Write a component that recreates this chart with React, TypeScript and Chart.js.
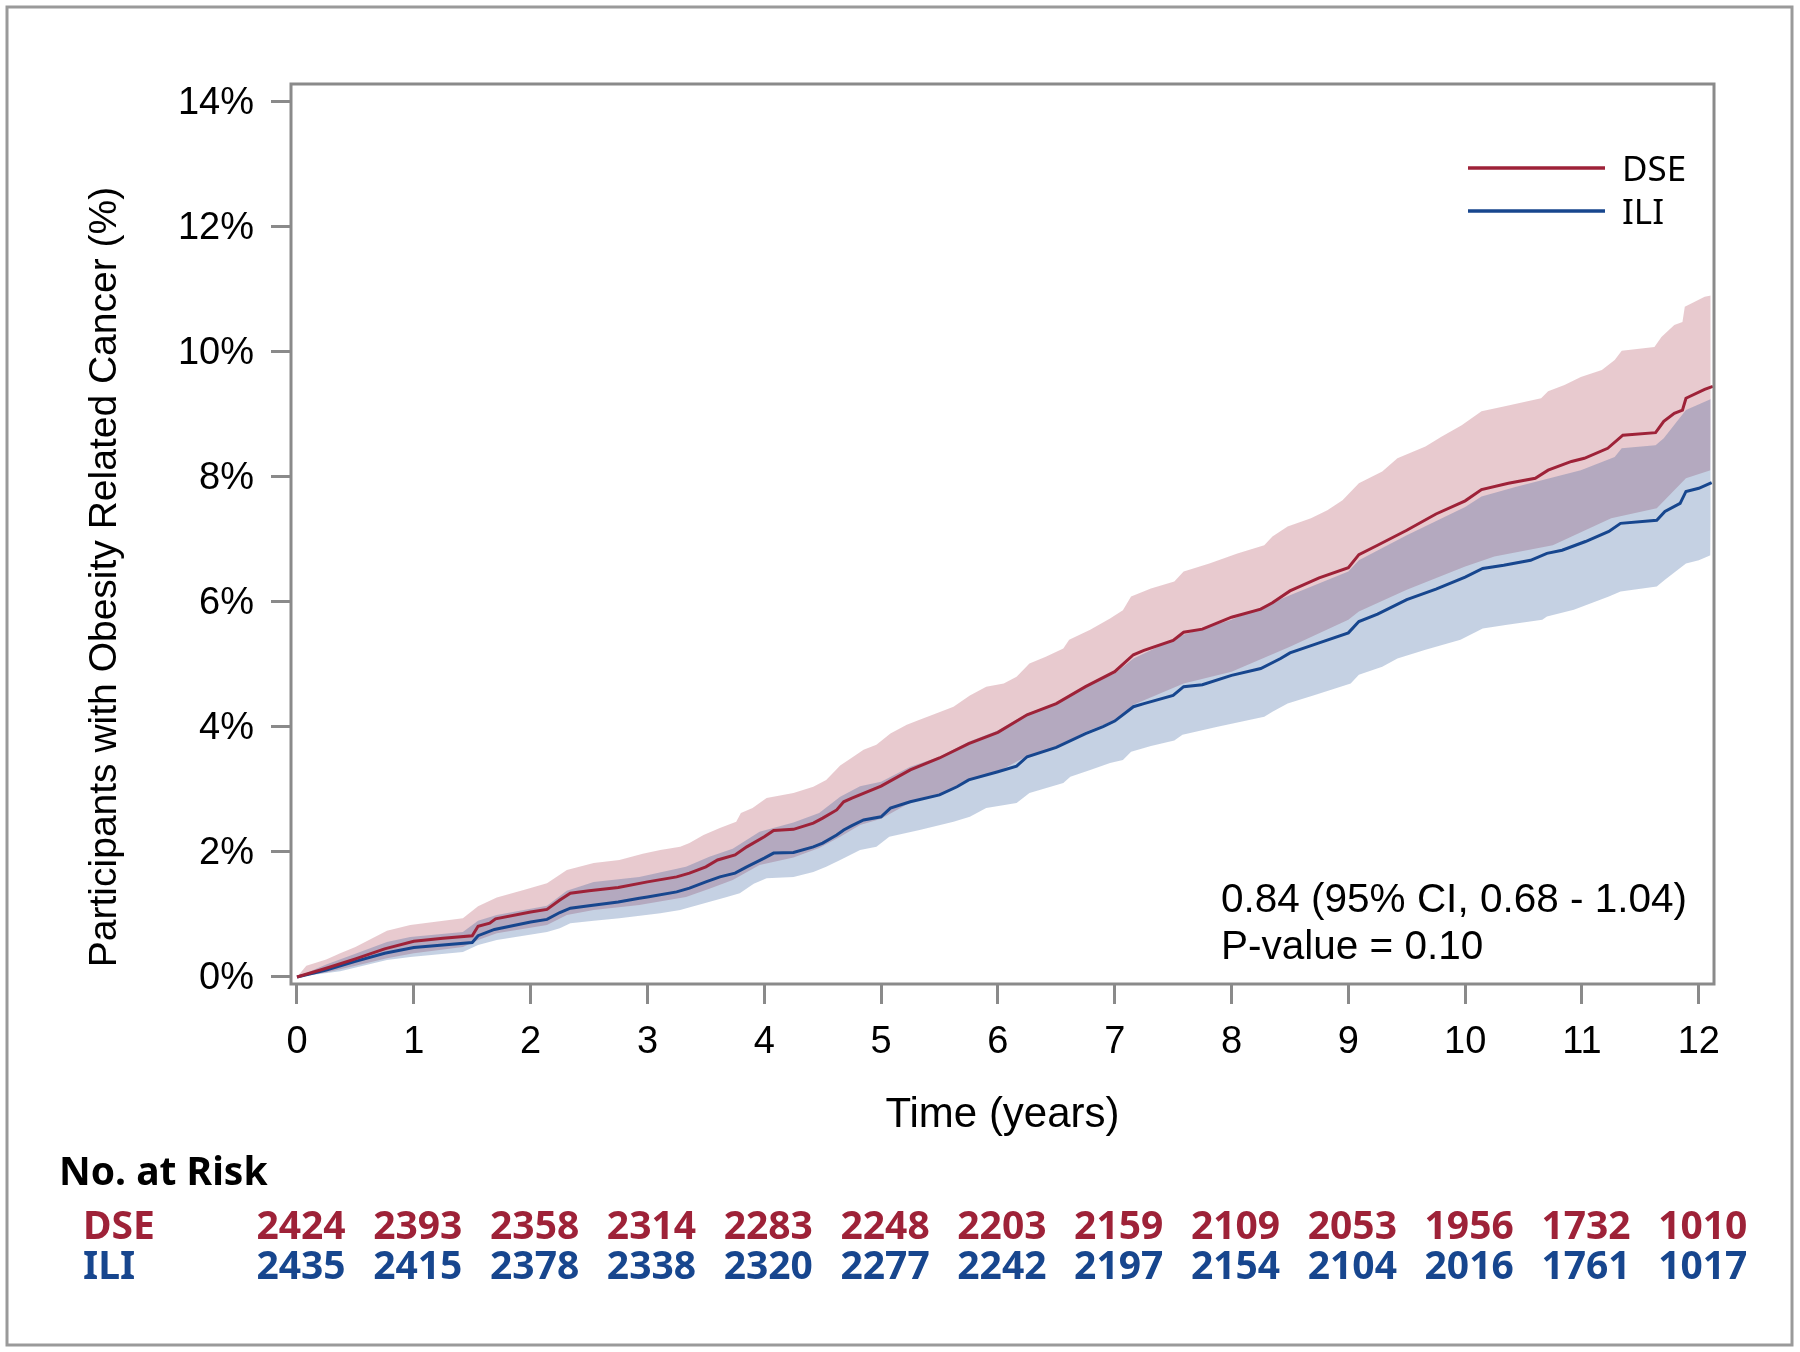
import React, { useEffect, useRef } from 'react';
import { Chart, registerables } from 'chart.js';

Chart.register(...registerables);

// ---------- data ----------
const groups = ['DSE', 'ILI'];
const xTicks = [0, 1, 2, 3, 4, 5, 6, 7, 8, 9, 10, 11, 12];
const yTicks = [0, 2, 4, 6, 8, 10, 12, 14];
const riskTimes = [0, 1, 2, 3, 4, 5, 6, 7, 8, 9, 10, 11, 12];
const dseAtRisk = [2424, 2393, 2358, 2314, 2283, 2248, 2203, 2159, 2109, 2053, 1956, 1732, 1010];
const iliAtRisk = [2435, 2415, 2378, 2338, 2320, 2277, 2242, 2197, 2154, 2104, 2016, 1761, 1017];
const statLines = ['0.84 (95% CI, 0.68 - 1.04)', 'P-value = 0.10'];

// cumulative incidence (%) : [years, percent]
const dseCurve = [
  [0, 0], [0.25, 0.14], [0.5, 0.29], [0.75, 0.45], [1.0, 0.57], [1.25, 0.62], [1.5, 0.66], [1.55, 0.81],
  [1.65, 0.86], [1.7, 0.93], [2.0, 1.04], [2.14, 1.08], [2.25, 1.23], [2.34, 1.34], [2.5, 1.38], [2.75, 1.43],
  [3.0, 1.52], [3.25, 1.6], [3.36, 1.66], [3.5, 1.76], [3.6, 1.87], [3.75, 1.95], [3.85, 2.08], [4.0, 2.24],
  [4.08, 2.34], [4.25, 2.36], [4.42, 2.46], [4.5, 2.54], [4.62, 2.67], [4.68, 2.8], [4.75, 2.86], [5.0, 3.05],
  [5.25, 3.31], [5.5, 3.5], [5.75, 3.73], [6.0, 3.91], [6.25, 4.19], [6.5, 4.37], [6.75, 4.64], [7.0, 4.88],
  [7.16, 5.15], [7.25, 5.22], [7.5, 5.38], [7.59, 5.51], [7.75, 5.56], [8.0, 5.75], [8.25, 5.88], [8.35, 5.98],
  [8.5, 6.17], [8.75, 6.38], [9.0, 6.54], [9.09, 6.75], [9.25, 6.9], [9.5, 7.14], [9.75, 7.4], [10.0, 7.61],
  [10.14, 7.79], [10.37, 7.89], [10.6, 7.97], [10.71, 8.1], [10.91, 8.24], [11.02, 8.29], [11.22, 8.45],
  [11.35, 8.66], [11.63, 8.7], [11.7, 8.88], [11.79, 9.01], [11.86, 9.06], [11.89, 9.25], [12.05, 9.39], [12.12, 9.44],
];
const dseUpper = [
  [0, 0], [0.08, 0.18], [0.25, 0.28], [0.37, 0.38], [0.5, 0.48], [0.77, 0.74], [0.97, 0.83], [1.42, 0.94],
  [1.55, 1.13], [1.71, 1.27], [1.94, 1.39], [2.14, 1.5], [2.31, 1.71], [2.54, 1.82], [2.76, 1.87], [2.96, 1.97],
  [3.11, 2.03], [3.28, 2.08], [3.36, 2.14], [3.48, 2.27], [3.62, 2.38], [3.76, 2.48], [3.8, 2.62], [3.9, 2.7],
  [4.02, 2.86], [4.25, 2.94], [4.42, 3.04], [4.53, 3.15], [4.65, 3.38], [4.73, 3.48], [4.85, 3.63], [4.96, 3.71],
  [5.08, 3.89], [5.22, 4.03], [5.33, 4.11], [5.47, 4.21], [5.62, 4.32], [5.76, 4.5], [5.9, 4.64], [6.05, 4.69],
  [6.16, 4.8], [6.27, 5.01], [6.41, 5.12], [6.56, 5.25], [6.61, 5.39], [6.79, 5.55], [6.96, 5.73], [7.07, 5.86],
  [7.14, 6.08], [7.31, 6.21], [7.51, 6.32], [7.59, 6.48], [7.81, 6.61], [8.05, 6.77], [8.28, 6.9], [8.35, 7.04],
  [8.48, 7.2], [8.68, 7.33], [8.82, 7.46], [8.95, 7.62], [9.09, 7.89], [9.29, 8.08], [9.42, 8.29], [9.66, 8.48],
  [9.8, 8.64], [9.97, 8.82], [10.14, 9.04], [10.34, 9.12], [10.65, 9.25], [10.71, 9.36], [10.85, 9.46],
  [10.99, 9.59], [11.17, 9.7], [11.28, 9.86], [11.34, 10.01], [11.62, 10.07], [11.68, 10.23], [11.79, 10.42],
  [11.86, 10.47], [11.88, 10.71], [12.05, 10.87], [12.12, 10.9],
];
const dseLower = [
  [0, 0], [0.25, 0.07], [0.5, 0.18], [0.77, 0.3], [1.0, 0.38], [1.42, 0.48], [1.55, 0.59], [1.71, 0.7],
  [2.14, 0.83], [2.31, 0.99], [2.54, 1.07], [2.93, 1.15], [3.33, 1.28], [3.53, 1.41], [3.73, 1.55], [3.96, 1.79],
  [4.25, 1.91], [4.47, 2.06], [4.65, 2.24], [4.82, 2.43], [5.0, 2.53], [5.25, 2.79], [5.5, 2.91], [5.75, 3.15],
  [6.0, 3.28], [6.25, 3.53], [6.5, 3.68], [6.75, 3.92], [7.0, 4.1], [7.16, 4.35], [7.59, 4.69], [8.0, 4.88],
  [8.5, 5.28], [9.0, 5.71], [9.09, 5.84], [9.5, 6.19], [10.0, 6.56], [10.25, 6.72], [10.75, 6.9], [11.25, 7.33],
  [11.64, 7.49], [11.89, 7.97], [12.1, 8.1],
];
const iliCurve = [
  [0, 0], [0.25, 0.11], [0.5, 0.25], [0.75, 0.38], [1.0, 0.47], [1.25, 0.51], [1.5, 0.55], [1.55, 0.66],
  [1.69, 0.76], [2.0, 0.88], [2.14, 0.92], [2.25, 1.03], [2.34, 1.1], [2.5, 1.14], [2.75, 1.2], [2.93, 1.26],
  [3.0, 1.28], [3.25, 1.36], [3.36, 1.42], [3.5, 1.52], [3.62, 1.6], [3.75, 1.66], [3.85, 1.76], [4.0, 1.9],
  [4.08, 1.98], [4.25, 1.99], [4.42, 2.08], [4.5, 2.14], [4.62, 2.27], [4.68, 2.35], [4.75, 2.42], [4.85, 2.51],
  [5.0, 2.56], [5.08, 2.7], [5.25, 2.8], [5.5, 2.91], [5.65, 3.04], [5.75, 3.15], [6.0, 3.28], [6.16, 3.37],
  [6.25, 3.52], [6.5, 3.67], [6.75, 3.89], [6.9, 4.0], [7.0, 4.09], [7.16, 4.32], [7.25, 4.37], [7.5, 4.5],
  [7.59, 4.64], [7.75, 4.67], [8.0, 4.82], [8.25, 4.93], [8.42, 5.09], [8.5, 5.18], [8.75, 5.34], [9.0, 5.5],
  [9.09, 5.68], [9.25, 5.8], [9.5, 6.03], [9.75, 6.2], [10.0, 6.39], [10.15, 6.53], [10.33, 6.58], [10.56, 6.66],
  [10.7, 6.77], [10.83, 6.82], [11.03, 6.96], [11.23, 7.12], [11.33, 7.25], [11.64, 7.3], [11.71, 7.44],
  [11.84, 7.57], [11.89, 7.76], [12.0, 7.81], [12.11, 7.9],
];
const iliUpper = [
  [0, 0], [0.25, 0.2], [0.5, 0.37], [0.77, 0.56], [0.97, 0.64], [1.42, 0.72], [1.55, 0.9], [1.71, 0.99],
  [2.14, 1.14], [2.31, 1.38], [2.54, 1.52], [2.93, 1.6], [3.33, 1.76], [3.53, 1.92], [3.73, 2.05], [3.96, 2.32],
  [4.25, 2.47], [4.47, 2.62], [4.65, 2.88], [4.82, 3.05], [5.0, 3.12], [5.25, 3.36], [5.5, 3.52], [5.75, 3.76],
  [6.0, 3.94], [6.25, 4.21], [6.5, 4.38], [6.75, 4.65], [7.0, 4.85], [7.16, 5.09], [7.59, 5.47], [8.0, 5.71],
  [8.5, 6.1], [9.0, 6.48], [9.09, 6.66], [9.5, 7.06], [10.0, 7.51], [10.14, 7.68], [10.43, 7.83], [10.99, 8.1],
  [11.28, 8.31], [11.34, 8.45], [11.63, 8.5], [11.7, 8.61], [11.89, 9.06], [12.12, 9.25],
];
const iliLower = [
  [0, 0], [0.37, 0.09], [0.77, 0.27], [0.97, 0.32], [1.42, 0.4], [1.55, 0.51], [1.71, 0.59], [2.14, 0.72],
  [2.25, 0.78], [2.34, 0.86], [2.54, 0.9], [2.76, 0.94], [3.11, 1.02], [3.28, 1.07], [3.51, 1.19], [3.68, 1.28],
  [3.79, 1.34], [3.91, 1.49], [4.02, 1.58], [4.25, 1.6], [4.42, 1.68], [4.53, 1.76], [4.65, 1.87], [4.82, 2.03],
  [4.96, 2.08], [5.07, 2.24], [5.33, 2.35], [5.62, 2.48], [5.76, 2.56], [5.9, 2.7], [6.16, 2.78], [6.27, 2.94],
  [6.56, 3.1], [6.62, 3.2], [6.79, 3.31], [6.96, 3.42], [7.07, 3.47], [7.14, 3.6], [7.31, 3.69], [7.51, 3.78],
  [7.58, 3.87], [7.88, 4.0], [8.28, 4.16], [8.35, 4.24], [8.48, 4.37], [8.72, 4.51], [9.02, 4.69], [9.09, 4.83],
  [9.29, 4.96], [9.42, 5.09], [9.66, 5.23], [9.96, 5.39], [10.15, 5.57], [10.36, 5.63], [10.66, 5.71],
  [10.7, 5.76], [10.93, 5.87], [11.23, 6.08], [11.33, 6.16], [11.64, 6.24], [11.71, 6.35], [11.89, 6.61],
  [12.0, 6.66], [12.1, 6.74],
];

// ---------- styles ----------
const RED = 'rgb(158,34,56)';
const BLUE = 'rgb(23,70,142)';
const RED_FILL = 'rgba(158,34,56,0.24)';
const BLUE_FILL = 'rgba(23,70,142,0.25)';
const AXIS_GRAY = '#8a8a8a';
const ARIAL = "'Liberation Sans', Arial, sans-serif";
const SANS = "'Noto Sans', 'Open Sans', sans-serif";

const toPts = (arr: number[][]) => arr.map(([x, y]) => ({ x, y }));

const decorPlugin = {
  id: 'decor',
  beforeDraw(chart: any) {
    const { ctx, width, height } = chart;
    ctx.save();
    ctx.fillStyle = '#ffffff';
    ctx.fillRect(0, 0, width, height);
    ctx.restore();
  },
  afterDraw(chart: any) {
    const { ctx, chartArea: ca, scales } = chart;
    ctx.save();
    // plot frame
    ctx.strokeStyle = AXIS_GRAY;
    ctx.lineWidth = 3;
    ctx.strokeRect(ca.left, ca.top, ca.right - ca.left, ca.bottom - ca.top);
    // outer border
    ctx.strokeStyle = '#9a9a9a';
    ctx.lineWidth = 3;
    ctx.strokeRect(7, 7, 1785, 1338);

    ctx.textBaseline = 'alphabetic';

    // y-axis title
    ctx.save();
    ctx.translate(116, 577);
    ctx.rotate(-Math.PI / 2);
    ctx.font = `39px ${ARIAL}`;
    ctx.fillStyle = '#000';
    ctx.textAlign = 'center';
    ctx.fillText('Participants with Obesity Related Cancer (%)', 0, 0);
    ctx.restore();

    // legend
    const legendColors = [RED, BLUE];
    groups.forEach((g, i) => {
      const y = 168 + i * 43;
      ctx.strokeStyle = legendColors[i];
      ctx.lineWidth = 3.5;
      ctx.beginPath();
      ctx.moveTo(1468, y);
      ctx.lineTo(1605, y);
      ctx.stroke();
      ctx.fillStyle = '#000';
      ctx.font = `35px ${SANS}`;
      ctx.textAlign = 'left';
      ctx.fillText(g, 1622, y + 12.5);
    });

    // statistics annotation
    ctx.fillStyle = '#000';
    ctx.font = `40.5px ${ARIAL}`;
    ctx.textAlign = 'left';
    ctx.fillText(statLines[0], 1221, 912);
    ctx.fillText(statLines[1], 1221, 959);

    // number at risk table
    ctx.font = `bold 39px ${SANS}`;
    ctx.fillStyle = '#000';
    ctx.textAlign = 'left';
    ctx.fillText('No. at Risk', 59, 1185);
    const rows = [dseAtRisk, iliAtRisk];
    const rowBase = [1239, 1279];
    rows.forEach((vals, r) => {
      ctx.fillStyle = legendColors[r];
      ctx.textAlign = 'left';
      ctx.fillText(groups[r], 83, rowBase[r]);
      ctx.textAlign = 'center';
      vals.forEach((v, i) => {
        const x = scales.x.getPixelForValue(riskTimes[i]) + 4;
        ctx.fillText(String(v), x, rowBase[r]);
      });
    });
    ctx.restore();
  },
};

export default function App() {
  const ref = useRef<HTMLCanvasElement | null>(null);

  useEffect(() => {
    if (!ref.current) return;
    const band = (data: number[][], color: string, fill: any, order: number) => ({
      data: toPts(data),
      borderColor: 'rgba(0,0,0,0)',
      borderWidth: 0,
      backgroundColor: color,
      pointRadius: 0,
      tension: 0,
      fill,
      order,
    });
    const chart = new Chart(ref.current, {
      type: 'line',
      data: {
        datasets: [
          { ...band(dseLower, RED_FILL, false, 2), label: 'DSE lower' },
          { ...band(dseUpper, RED_FILL, { target: 0 }, 2), label: 'DSE upper' },
          { ...band(iliLower, BLUE_FILL, false, 1), label: 'ILI lower' },
          { ...band(iliUpper, BLUE_FILL, { target: 2 }, 1), label: 'ILI upper' },
          {
            label: groups[0],
            data: toPts(dseCurve),
            borderColor: RED,
            borderWidth: 3,
            pointRadius: 0,
            tension: 0,
            fill: false,
            order: 0,
          },
          {
            label: groups[1],
            data: toPts(iliCurve),
            borderColor: BLUE,
            borderWidth: 3,
            pointRadius: 0,
            tension: 0,
            fill: false,
            order: 0,
          },
        ],
      },
      options: {
        responsive: false,
        animation: false,
        devicePixelRatio: 1,
        layout: { padding: { left: 0, top: 84, right: 86, bottom: 208 } },
        plugins: {
          legend: { display: false },
          tooltip: { enabled: false },
          filler: { drawTime: 'beforeDatasetsDraw' },
        },
        scales: {
          x: {
            type: 'linear',
            min: -0.0513,
            max: 12.13,
            afterBuildTicks: (s: any) => {
              s.ticks = xTicks.map((v) => ({ value: v }));
            },
            afterFit: (s: any) => {
              s.height = 160;
            },
            border: { display: false },
            grid: {
              drawOnChartArea: false,
              drawTicks: true,
              tickLength: 20,
              color: AXIS_GRAY,
              lineWidth: 3,
            },
            ticks: {
              padding: 16,
              color: '#000',
              font: { family: ARIAL, size: 38 },
              maxRotation: 0,
              callback: (v: any) => String(v),
            },
            title: {
              display: true,
              text: 'Time (years)',
              color: '#000',
              font: { family: ARIAL, size: 42 },
              padding: { top: 0, bottom: 3 },
            },
          },
          y: {
            type: 'linear',
            min: -0.112,
            max: 14.272,
            afterBuildTicks: (s: any) => {
              s.ticks = yTicks.map((v) => ({ value: v }));
            },
            afterFit: (s: any) => {
              s.width = 291;
            },
            border: { display: false },
            grid: {
              drawOnChartArea: false,
              drawTicks: true,
              tickLength: 20,
              color: AXIS_GRAY,
              lineWidth: 3,
            },
            ticks: {
              padding: 17,
              labelOffset: 2,
              color: '#000',
              font: { family: ARIAL, size: 38 },
              callback: (v: any) => `${v}%`,
            },
          },
        },
      },
      plugins: [decorPlugin],
    } as any);
    return () => chart.destroy();
  }, []);

  return (
    <div style={{ position: 'absolute', left: 0, top: 0, width: 1800, height: 1352, background: '#fff' }}>
      <canvas ref={ref} width={1800} height={1352} style={{ width: 1800, height: 1352, display: 'block' }} />
    </div>
  );
}
